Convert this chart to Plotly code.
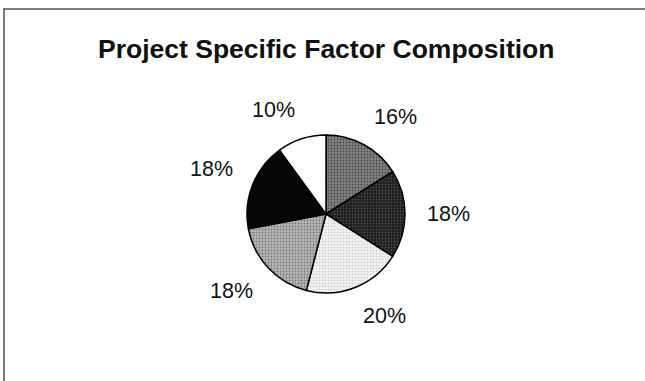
import math
import plotly.graph_objects as go

# Data
labels = ["Factor A", "Factor B", "Factor C", "Factor D", "Factor E", "Factor F"]
values = [16, 18, 20, 18, 18, 10]
pct_labels = ["16%", "18%", "20%", "18%", "18%", "10%"]
title_text = "Project Specific Factor Composition"

W, H = 645, 381
cx, cy, R = 326, 214, 79  # pie centre and radius in pixels

bgcolors = ["#858585", "#1c1c1c", "#f6f6f6", "#b8b8b8", "#050505", "#ffffff"]
fgcolors = ["#444444", "#4a4a4a", "#cfcfcf", "#777777", "#050505", "#ffffff"]

fig = go.Figure(go.Pie(
    labels=labels,
    values=values,
    sort=False,
    direction="clockwise",
    rotation=0,
    textinfo="none",
    hoverinfo="label+percent",
    showlegend=False,
    marker=dict(
        colors=bgcolors,
        line=dict(color="#000000", width=1.5),
        pattern=dict(shape=[".", ".", ".", ".", "", ""],
                     bgcolor=bgcolors, fgcolor=fgcolors,
                     size=3, solidity=0.3),
    ),
    domain=dict(x=[(cx - R) / W, (cx + R) / W],
                y=[1 - (cy + R) / H, 1 - (cy - R) / H]),
))

# Outside percentage labels: box corner anchored just outside each slice mid-angle
total = sum(values)
cum = 0
annotations = []
anchor_r = R + 22
half_w, half_h = 21, 8
for v, t in zip(values, pct_labels):
    mid = (cum + v / 2) / total * 2 * math.pi
    cum += v
    s, c = math.sin(mid), math.cos(mid)
    sx = 0 if abs(s) < 0.05 else (1 if s > 0 else -1)
    sy = 0 if abs(c) < 0.05 else (1 if c > 0 else -1)
    px = cx + anchor_r * s + half_w * sx
    py = cy - anchor_r * c - half_h * sy
    annotations.append(dict(
        x=px / W, y=1 - py / H, xref="paper", yref="paper",
        text=t, showarrow=False, xanchor="center", yanchor="middle",
        font=dict(family="Arial, Liberation Sans", size=21.5, color="#111111"),
    ))

annotations.append(dict(
    x=326 / W, y=1 - 49 / H, xref="paper", yref="paper",
    text="<b>" + title_text + "</b>", showarrow=False,
    xanchor="center", yanchor="middle",
    font=dict(family="Arial, Liberation Sans", size=26.5, color="#111111"),
))

# Chart-area frame: left and top edges only (right/bottom cropped in reference)
lx, ty = 4 / W, 1 - 9 / H
shapes = [
    dict(type="path", xref="paper", yref="paper",
         path=f"M {lx},0 L {lx},{ty} L 1.01,{ty}",
         fillcolor="rgba(0,0,0,0)",
         line=dict(color="#7a7a7a", width=2)),
]

fig.update_layout(
    width=W, height=H,
    margin=dict(l=0, r=0, t=0, b=0),
    paper_bgcolor="#ffffff",
    plot_bgcolor="#ffffff",
    annotations=annotations,
    shapes=shapes,
)

fig.write_html(
    "out.html",
    config={"displayModeBar": False},
    post_script="document.body.style.margin='0';document.body.style.overflow='hidden';",
)
